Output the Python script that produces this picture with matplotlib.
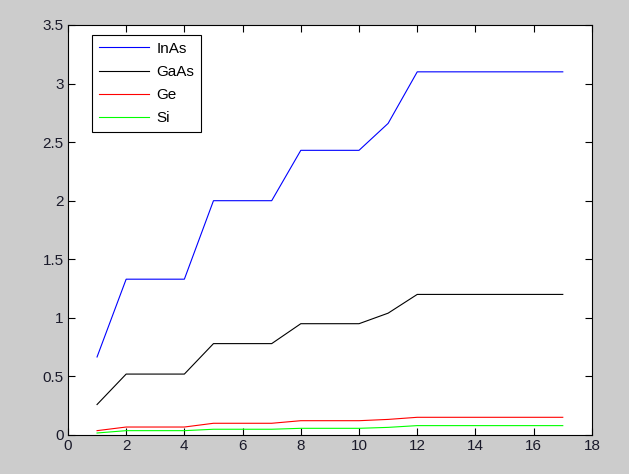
import matplotlib
matplotlib.use('Agg')
import matplotlib.pyplot as plt
from matplotlib.ticker import FuncFormatter

# Values
x = list(range(1, 18))
inas = [0.666, 1.33, 1.33, 1.33, 2.00, 2.00, 2.00, 2.43, 2.43, 2.43, 2.66, 3.10,
        3.10, 3.10, 3.10, 3.10, 3.10]
gaas = [0.26, 0.52, 0.52, 0.52, 0.78, 0.78, 0.78, 0.95, 0.95, 0.95, 1.04, 1.20,
        1.20, 1.20, 1.20, 1.20, 1.20]
ge = [0.037, 0.068, 0.068, 0.068, 0.100, 0.100, 0.100, 0.122, 0.122, 0.122, 0.133, 0.151,
      0.151, 0.151, 0.151, 0.151, 0.151]
si = [0.017, 0.037, 0.037, 0.037, 0.049, 0.049, 0.049, 0.057, 0.057, 0.057, 0.065, 0.080,
      0.080, 0.080, 0.080, 0.080, 0.080]

plt.rcParams['font.family'] = ['Liberation Sans', 'DejaVu Sans']

fig = plt.figure(figsize=(6.29, 4.74), dpi=100, facecolor='#cccccc')
ax = fig.add_axes([0.108, 0.0823, 0.833, 0.865])

ax.plot(x, inas, color='#0000ff', lw=0.8, label='InAs')
ax.plot(x, gaas, color='black', lw=0.8, label='GaAs')
ax.plot(x, ge, color='#ff0000', lw=0.8, label='Ge')
ax.plot(x, si, color='#00ff00', lw=0.8, label='Si')

ax.set_xlim(0, 18)
ax.set_ylim(0, 3.5)
ax.set_xticks(range(0, 19, 2))
ax.set_yticks([i * 0.5 for i in range(8)])
ax.yaxis.set_major_formatter(FuncFormatter(lambda v, p: f'{v:g}'))
ax.tick_params(direction='in', length=5, width=0.8, top=True, right=True,
               labelsize=11, pad=3, labelcolor='#1a1a2a')
for s in ax.spines.values():
    s.set_linewidth(0.8)

leg = ax.legend(loc='upper left', bbox_to_anchor=(0.046, 0.976), fontsize=11,
                handlelength=3.3, labelspacing=0.6, handletextpad=0.45,
                borderaxespad=0, borderpad=0.45,
                fancybox=False, edgecolor='black', framealpha=1)
leg.get_frame().set_linewidth(0.8)

plt.savefig('out.png', dpi=100, facecolor=fig.get_facecolor())
